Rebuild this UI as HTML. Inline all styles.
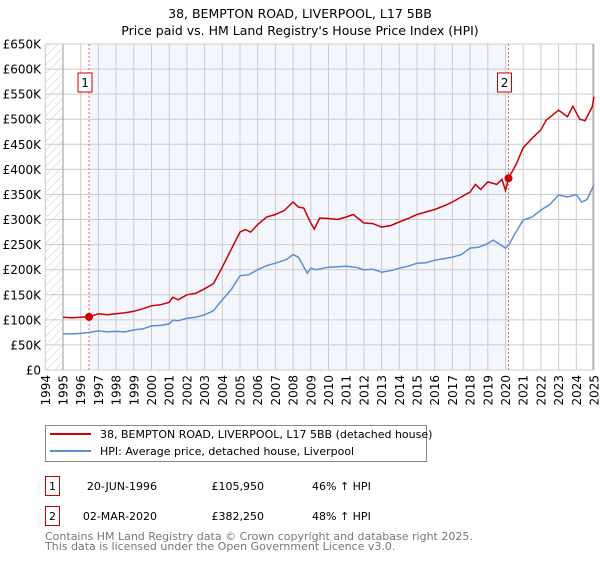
<!DOCTYPE html>
<html><head><meta charset="utf-8"><style>
body{margin:0;background:#fff;width:600px;height:560px;overflow:hidden;font-family:"DejaVu Sans","Liberation Sans",sans-serif}
svg text{font-family:"DejaVu Sans","Liberation Sans",sans-serif}
</style></head><body>
<svg id="c" width="600" height="560"></svg>
<script>
const hpiYears=[1995,1995.5,1996,1996.5,1997,1997.5,1998,1998.5,1999,1999.5,2000,2000.5,2001,2001.2,2001.5,2002,2002.5,2003,2003.5,2004,2004.5,2005,2005.5,2006,2006.5,2007,2007.6,2008,2008.3,2008.8,2009,2009.3,2010,2010.5,2011,2011.5,2012,2012.5,2013,2013.5,2014,2014.5,2015,2015.5,2016,2016.5,2017,2017.5,2018,2018.5,2019,2019.3,2019.7,2020,2020.2,2020.5,2021,2021.5,2022,2022.5,2023,2023.5,2024,2024.3,2024.6,2025];
const hpiValues=[72,72,73,75,78,76,77,76,80,82,88,89,92,99,98,103,105,110,118,140,160,188,190,200,208,213,220,230,225,193,203,200,205,206,207,205,200,201,195,198,203,207,213,214,219,222,225,230,243,245,252,259,250,243,250,270,299,305,319,330,349,345,350,335,340,369];
const priceYears=[1995,1995.5,1996,1996.47,1997,1997.5,1998,1998.5,1999,1999.5,2000,2000.5,2001,2001.2,2001.5,2002,2002.5,2003,2003.5,2004,2004.5,2005,2005.3,2005.6,2006,2006.5,2007,2007.5,2008,2008.3,2008.6,2009,2009.2,2009.5,2010,2010.5,2011,2011.4,2012,2012.5,2013,2013.5,2014,2014.5,2015,2015.5,2016,2016.5,2017,2017.5,2018,2018.3,2018.6,2019,2019.5,2019.8,2020,2020.17,2020.6,2021,2021.5,2022,2022.3,2023,2023.5,2023.8,2024.2,2024.5,2024.9,2025];
const priceValues=[105,104,105,105.95,112,110,112,114,117,122,128,130,135,145,140,150,153,162,172,205,240,275,280,275,290,305,310,318,335,325,323,293,281,303,302,300,305,310,293,292,285,288,295,302,310,315,320,327,335,345,355,370,360,375,370,380,358,382.25,410,443,462,479,498,518,505,526,500,497,525,545];
const yTicks=[0,50,100,150,200,250,300,350,400,450,500,550,600,650];
const yTickLabels=["£0","£50K","£100K","£150K","£200K","£250K","£300K","£350K","£400K","£450K","£500K","£550K","£600K","£650K"];
const xTicks=[1994,1995,1996,1997,1998,1999,2000,2001,2002,2003,2004,2005,2006,2007,2008,2009,2010,2011,2012,2013,2014,2015,2016,2017,2018,2019,2020,2021,2022,2023,2024,2025];
const saleYears=[1996.47,2020.17];
const saleValues=[105.95,382.25];
const saleLabels=["1","2"];

const NS="http://www.w3.org/2000/svg";
const svg=document.getElementById('c');
const X0=45.3,X1=594,Y0=370,Y1=44;
const xs=y=>X0+(y-1994)/31*(X1-X0);
const ys=v=>Y0-v/650*(Y0-Y1);
function mk(t,a,p){const e=document.createElementNS(NS,t);for(const k in a)e.setAttribute(k,a[k]);(p||svg).appendChild(e);return e;}

const defs=mk('defs',{});
const pat=mk('pattern',{id:'h',width:6,height:6,patternUnits:'userSpaceOnUse',patternTransform:'rotate(45)'},defs);
mk('line',{x1:0,y1:0,x2:0,y2:6,stroke:'#ccc','stroke-width':1},pat);

let r=mk('rect',{x:X0,y:Y1,width:xs(1995)-X0,height:Y0-Y1,fill:'url(#h)'});


r=mk('rect',{x:xs(saleYears[0]),y:Y1,width:xs(saleYears[1])-xs(saleYears[0]),height:Y0-Y1,fill:'#f3f6fd'});



yTicks.forEach((v,i)=>{
  const l=mk('line',{x1:X0,x2:X1,y1:ys(v),y2:ys(v),stroke:'#cccccc','stroke-width':1});
  
  
  const t=mk('text',{x:41,y:ys(v)+4.5,'text-anchor':'end','font-size':12,fill:'#000'});
  t.textContent=yTickLabels[i];
  
  
});
xTicks.forEach(y=>{
  const l=mk('line',{x1:xs(y),x2:xs(y),y1:Y1,y2:Y0,stroke:'#cccccc','stroke-width':1});
  
  
  const t=mk('text',{x:0,y:0,'text-anchor':'end','font-size':12,fill:'#000',transform:`translate(${xs(y)+4.5},375) rotate(-90)`});
  t.textContent=y;
  
  
});
let a=mk('line',{x1:xs(1995),x2:xs(1995),y1:Y1,y2:Y0,stroke:'#999'});


a=mk('line',{x1:X1-1,x2:X1-1,y1:Y1,y2:Y0,stroke:'#999'});



saleYears.forEach((y,i)=>{
  const l=mk('line',{x1:xs(y),x2:xs(y),y1:Y1,y2:Y0,stroke:'#e66','stroke-width':1,'stroke-dasharray':'2,2'});
  
  
  const bx=mk('rect',{x:xs(y)-11,y:73,width:14,height:19,fill:'#fff',stroke:'#c00'});
  
  
  const t=mk('text',{x:xs(y)-4,y:87,'text-anchor':'middle','font-size':12,fill:'#000'});
  t.textContent=saleLabels[i];
  
  
});

function path(xv,yv){return xv.map((x,i)=>(i?'L':'M')+xs(x).toFixed(1)+','+ys(yv[i]).toFixed(1)).join('');}
let p=mk('path',{d:path(hpiYears,hpiValues),fill:'none',stroke:'#5b8fd4','stroke-width':1.5});


p=mk('path',{d:path(priceYears,priceValues),fill:'none',stroke:'#cc0000','stroke-width':1.5});


saleYears.forEach((y,i)=>{
  const c=mk('circle',{cx:xs(y),cy:ys(saleValues[i]),r:4,fill:'#cc0000'});
  
  
});

let t=mk('text',{x:300,y:18,'text-anchor':'middle','font-size':12.5,fill:'#000'});t.textContent="38, BEMPTON ROAD, LIVERPOOL, L17 5BB";


t=mk('text',{x:300,y:35,'text-anchor':'middle','font-size':12.5,fill:'#000'});t.textContent="Price paid vs. HM Land Registry's House Price Index (HPI)";



const lg=mk('g',{});


mk('rect',{x:45.5,y:425.5,width:381,height:36,fill:'#fff',stroke:'#888'},lg);
mk('line',{x1:50,x2:91,y1:434,y2:434,stroke:'#cc0000','stroke-width':2},lg);
mk('line',{x1:50,x2:91,y1:451,y2:451,stroke:'#5b8fd4','stroke-width':2},lg);
t=mk('text',{x:100,y:438,'font-size':11,fill:'#000'},lg);t.textContent="38, BEMPTON ROAD, LIVERPOOL, L17 5BB (detached house)";


t=mk('text',{x:100,y:455,'font-size':11,fill:'#000'},lg);t.textContent="HPI: Average price, detached house, Liverpool";



const rows=[["1","20-JUN-1996","£105,950","46% ↑ HPI",476],["2","02-MAR-2020","£382,250","48% ↑ HPI",506]];
rows.forEach(rw=>{
  const y=rw[4];
  const b=mk('rect',{x:45.5,y:y+0.5,width:14,height:19,fill:'#fff',stroke:'#c00'});
  
  
  let tt=mk('text',{x:52.5,y:y+14,'text-anchor':'middle','font-size':11,fill:'#000'});tt.textContent=rw[0];
  
  
  tt=mk('text',{x:157,y:y+14,'text-anchor':'end','font-size':11,fill:'#000'});tt.textContent=rw[1];
  
  
  tt=mk('text',{x:264,y:y+14,'text-anchor':'end','font-size':11,fill:'#000'});tt.textContent=rw[2];
  
  
  tt=mk('text',{x:312,y:y+14,'font-size':11,fill:'#000'});tt.textContent=rw[3];
  
  
});
t=mk('text',{x:45,y:540,'font-size':11,fill:'#777'});t.textContent="Contains HM Land Registry data © Crown copyright and database right 2025.";


t=mk('text',{x:45,y:550,'font-size':11,fill:'#777'});t.textContent="This data is licensed under the Open Government Licence v3.0.";


</script>
</body></html>
